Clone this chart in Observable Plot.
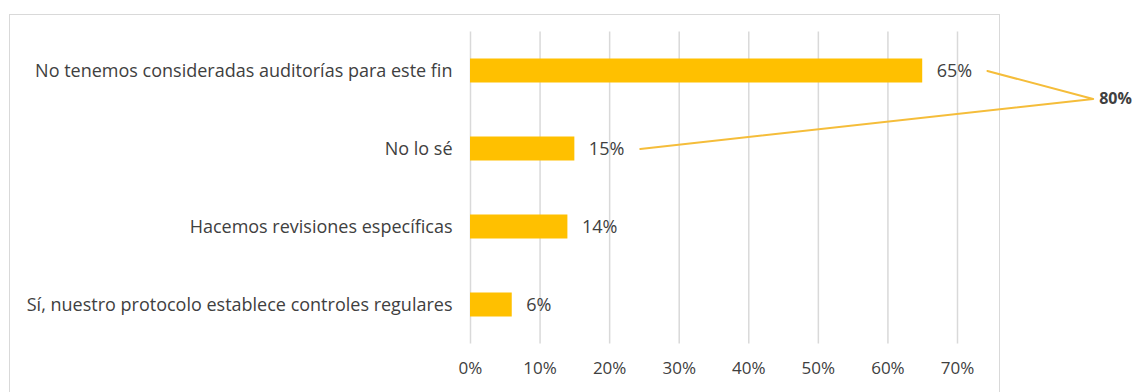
<!DOCTYPE html>
<html>
<head>
<meta charset="utf-8">
<script src="https://cdn.jsdelivr.net/npm/d3@7"></script>
<script src="https://cdn.jsdelivr.net/npm/@observablehq/plot@0.6"></script>
<style>
  html, body { margin: 0; padding: 0; background: #fff; }
  #wrap { position: relative; width: 1144px; height: 392px; overflow: hidden; }
  #frame { position: absolute; left: 9px; top: 14px; width: 991px; height: 400px; border: 1px solid #d9d9d9; box-sizing: border-box; }
  #chart { position: absolute; left: 0; top: 0; }
</style>
</head>
<body>
<div id="wrap"><div id="frame"></div><div id="chart"></div></div>
<script>
const categories = [
  "No tenemos consideradas auditorías para este fin",
  "No lo sé",
  "Hacemos revisiones específicas",
  "Sí, nuestro protocolo establece controles regulares"
];
const values = [0.65, 0.15, 0.14, 0.06];
const xTicks = [0, 0.1, 0.2, 0.3, 0.4, 0.5, 0.6, 0.7];
// bracket annotation joining the first two bars (data units: x share, y row index)
const bracketX = [0.743, 0.895, 0.244];
const bracketY = [0, 0.36, 1];
const bracketTotal = values[0] + values[1];

const data = categories.map((c, i) => ({i, category: c, value: values[i]}));
const bracket = bracketX.map((x, k) => ({x, y: bracketY[k]}));

const pct = d3.format(".0%");
const font = "'Open Sans', sans-serif";
const textColor = "#404040";
const gold = "#FFC000";

const chart = Plot.plot({
  width: 1144,
  height: 392,
  marginLeft: 470,
  marginRight: 187,
  marginTop: 31.5,
  marginBottom: 48.5,
  style: {fontFamily: font, color: textColor, background: "transparent", overflow: "visible"},
  x: {domain: [0, 0.7]},
  y: {domain: [-0.5, 3.5], reverse: true},
  marks: [
    Plot.gridX(xTicks, {stroke: "#d9d9d9", strokeOpacity: 1, strokeWidth: 1.5}),
    Plot.rectX(data, {
      x1: 0, x2: "value",
      y1: d => d.i - 0.5, y2: d => d.i + 0.5,
      insetTop: 27, insetBottom: 27,
      fill: gold
    }),
    Plot.text(data, {
      x: "value", y: "i", text: d => pct(d.value),
      dx: 14, textAnchor: "start", fontSize: 18, fill: textColor
    }),
    Plot.line(bracket, {x: "x", y: "y", stroke: "#F5BD3A", strokeWidth: 2, curve: "linear"}),
    Plot.text([bracketTotal], {
      x: bracketX[1], y: bracketY[1], text: d => pct(d),
      dx: 6, textAnchor: "start", fontSize: 16, fontWeight: "bold", fill: textColor
    }),
    Plot.axisY({
      ticks: [0, 1, 2, 3], tickFormat: i => categories[i],
      tickSize: 0, tickPadding: 18, fontSize: 18, label: null, fill: textColor
    }),
    Plot.axisX({
      ticks: xTicks, tickFormat: pct,
      tickSize: 0, tickPadding: 18, fontSize: 17, label: null, fill: textColor
    })
  ]
});
document.getElementById("chart").appendChild(chart);
</script>
</body>
</html>
